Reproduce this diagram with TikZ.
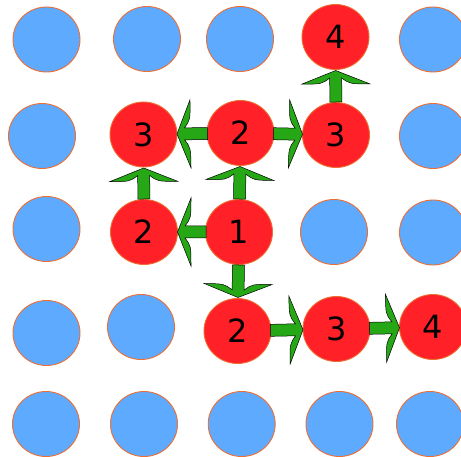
\documentclass[tikz,border=0pt]{standalone}
\usepackage{fontspec}
\setmainfont{DejaVu Sans}
\usetikzlibrary{calc,shapes.geometric}
\definecolor{dotblue}{RGB}{94,170,255}
\definecolor{dotred}{RGB}{255,32,40}
\definecolor{rimorange}{RGB}{238,110,50}
\definecolor{arrowgreen}{RGB}{38,168,22}
\tikzset{
  dot/.style={ellipse,minimum width=67pt,minimum height=65pt,inner sep=0pt,draw=rimorange,line width=0.9pt,fill=dotblue},
  visited/.style={dot,fill=dotred,font=\fontsize{32}{32}\selectfont},
  fatarrow/.style={fill=arrowgreen,draw=black,line width=0.5pt,line join=miter,
    to path={
      ($(\tikztostart)!33pt!(\tikztotarget)!6pt!90:(\tikztotarget)$) --
      ($(\tikztotarget)!41pt!(\tikztostart)!6pt!-90:(\tikztostart)$)
        .. controls ($(\tikztotarget)!47pt!(\tikztostart)!14pt!-90:(\tikztostart)$) ..
      ($(\tikztotarget)!47pt!(\tikztostart)!34pt!-90:(\tikztostart)$) --
      ($(\tikztotarget)!33.5pt!(\tikztostart)$) --
      ($(\tikztotarget)!47pt!(\tikztostart)!34pt!90:(\tikztostart)$)
        .. controls ($(\tikztotarget)!47pt!(\tikztostart)!14pt!90:(\tikztostart)$) ..
      ($(\tikztotarget)!41pt!(\tikztostart)!6pt!90:(\tikztostart)$) --
      ($(\tikztostart)!33pt!(\tikztotarget)!6pt!-90:(\tikztotarget)$) -- cycle}}
}
\begin{document}
\begin{tikzpicture}[x=1pt,y=-1pt]
  \useasboundingbox (0,0) rectangle (461,457);
  \node[dot] (c11) at (46.5,39.5) {};
  \node[dot] (c12) at (147,39) {};
  \node[dot] (c13) at (240,39) {};
  \node[visited] (c14) at (335.5,37) {4};
  \node[dot] (c15) at (433,39.5) {};
  \node[dot] (c21) at (42,136) {};
  \node[visited] (c22) at (143.5,134.5) {3};
  \node[visited] (c23) at (240.5,133) {2};
  \node[visited] (c24) at (336,135) {3};
  \node[dot] (c25) at (433,136) {};
  \node[dot] (c31) at (46.5,229) {};
  \node[visited] (c32) at (144,232) {2};
  \node[visited] (c33) at (239,232) {1};
  \node[dot] (c34) at (334,232) {};
  \node[dot] (c35) at (433,232.5) {};
  \node[dot] (c41) at (46.5,333) {};
  \node[dot] (c42) at (141,327) {};
  \node[visited] (c43) at (237.5,331) {2};
  \node[visited] (c44) at (336.5,329) {3};
  \node[visited] (c45) at (433,327) {4};
  \node[dot] (c51) at (46,424) {};
  \node[dot] (c52) at (144,424) {};
  \node[dot] (c53) at (241.7,424) {};
  \node[dot] (c54) at (339.5,424) {};
  \node[dot] (c55) at (430,424) {};
  \draw[fatarrow] (c33) to (c23);
  \draw[fatarrow] (c33) to (c32);
  \draw[fatarrow] (c33) to (c43);
  \draw[fatarrow] (c32) to (c22);
  \draw[fatarrow] (c23) to (c22);
  \draw[fatarrow] (c23) to (c24);
  \draw[fatarrow] (c24) to (c14);
  \draw[fatarrow] (c43) to (c44);
  \draw[fatarrow] (c44) to (c45);
\end{tikzpicture}
\end{document}
